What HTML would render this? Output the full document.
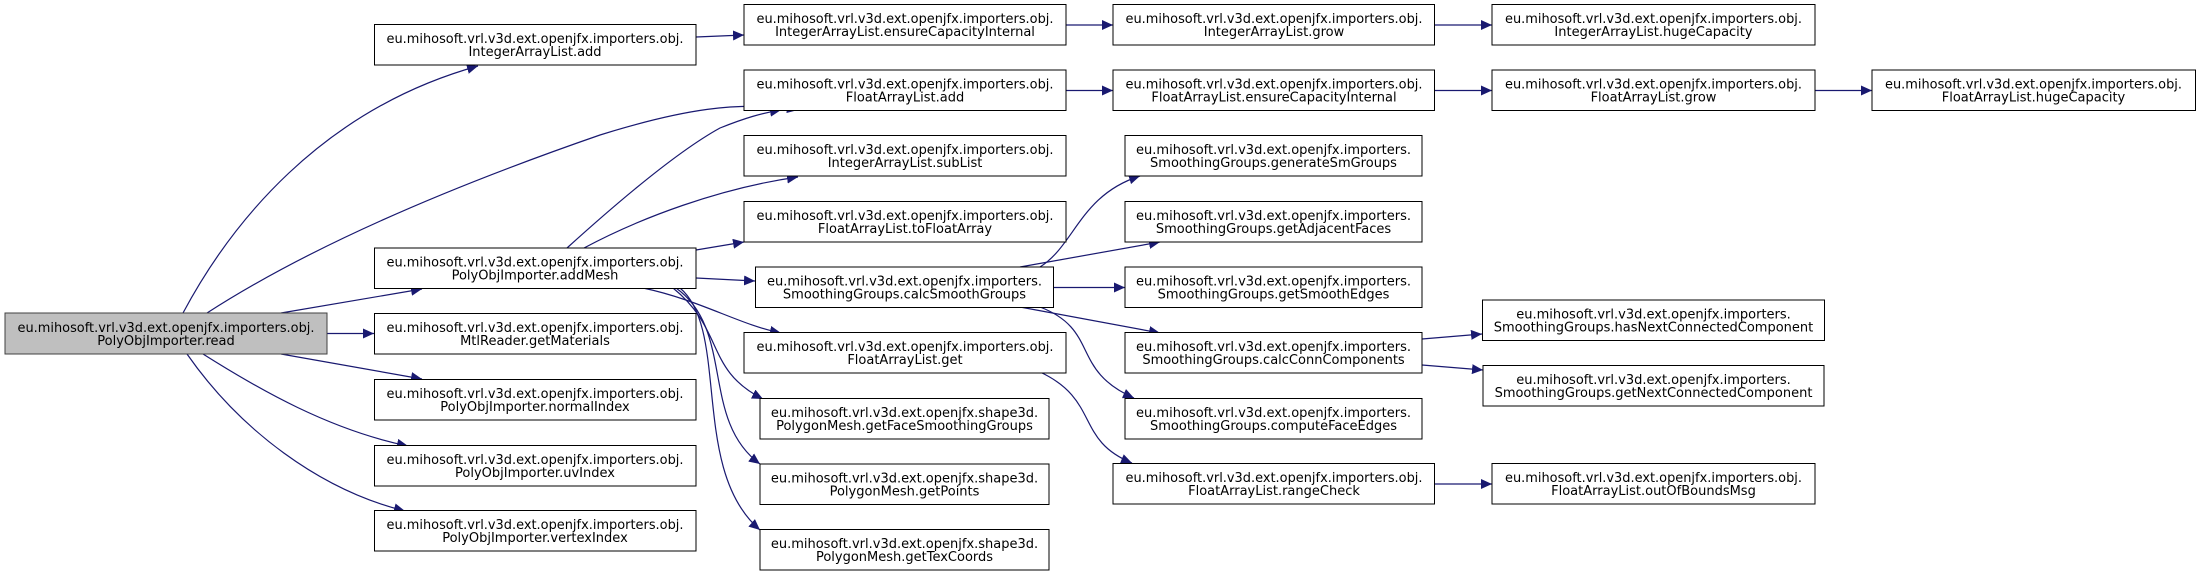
<!DOCTYPE html>
<html><head><meta charset="utf-8"><style>
html,body{margin:0;padding:0;background:#fff;}
svg{display:block;}
text{font-family:"DejaVu Sans","Liberation Sans",sans-serif;font-size:13px;fill:#000;}
</style></head><body>
<svg width="2197" height="575" viewBox="0 0 2197 575" xmlns="http://www.w3.org/2000/svg">
<defs>
<marker id="a" markerUnits="userSpaceOnUse" markerWidth="12" markerHeight="10" refX="11" refY="5" orient="auto">
<path d="M0,0 L11,5 L0,10 z" fill="#191970"/>
</marker>
</defs>
<g fill="none" stroke="#191970" stroke-width="1.2" marker-end="url(#a)">
<path d="M183,313 C230,225 320,110 478,66"/>
<path d="M207,313 C320,240 470,180 600,135 C680,110 740,100 798,110"/>
<path d="M567,248 C620,200 680,150 720,128 C745,118 762,113 781,110"/>
<path d="M584,248 C640,218 720,188 798,177"/>
<path d="M696,250 L744,242"/>
<path d="M696,278 L755,281"/>
<path d="M643,288 C700,300 740,325 781,333"/>
<path d="M673,288 C725,330 705,370 763,399"/>
<path d="M676,288 C735,330 700,420 760,464"/>
<path d="M680,288 C730,330 690,470 760,530"/>
<path d="M281,313 L422,289"/>
<path d="M327,333.5 L374,333.5"/>
<path d="M281,354 L422,379"/>
<path d="M203,354 C260,390 330,430 408,446"/>
<path d="M187,354 C240,430 320,490 405,511"/>
<path d="M696,37 L744,35"/>
<path d="M1066,25 L1113,25"/>
<path d="M1434,25 L1492,25"/>
<path d="M1066,90.5 L1113,90.5"/>
<path d="M1434,90.5 L1492,90.5"/>
<path d="M1815,90.5 L1872,90.5"/>
<path d="M1040,267 C1075,245 1080,195 1140,176"/>
<path d="M1020,267 L1160,242"/>
<path d="M1053,287.5 L1125,287.5"/>
<path d="M1020,307 L1160,333"/>
<path d="M1040,307 C1100,330 1070,370 1134,398"/>
<path d="M1040,372 C1100,400 1075,440 1132,463"/>
<path d="M1422,339 L1482,334"/>
<path d="M1422,365 L1483,370"/>
<path d="M1434,484 L1492,484"/>
</g>
<g stroke="#000" stroke-width="1">
<rect x="5" y="313" width="322" height="41" fill="#bfbfbf" stroke="#404040"/>
<rect x="374.5" y="24.5" width="321.5" height="40.5" fill="#fff"/>
<rect x="374.5" y="248" width="321.5" height="40.5" fill="#fff"/>
<rect x="374.5" y="313.5" width="321.5" height="40.5" fill="#fff"/>
<rect x="374.5" y="379.5" width="321.5" height="40.5" fill="#fff"/>
<rect x="374.5" y="445.5" width="321.5" height="40.5" fill="#fff"/>
<rect x="374.5" y="510.5" width="321.5" height="40.5" fill="#fff"/>
<rect x="744" y="4.5" width="322" height="40.5" fill="#fff"/>
<rect x="744" y="70" width="322" height="40.5" fill="#fff"/>
<rect x="744" y="135.5" width="322" height="40.5" fill="#fff"/>
<rect x="744" y="201.5" width="322" height="40.5" fill="#fff"/>
<rect x="755.5" y="267" width="298" height="40.5" fill="#fff"/>
<rect x="744" y="332.5" width="322" height="40.5" fill="#fff"/>
<rect x="760" y="398.5" width="289" height="40.5" fill="#fff"/>
<rect x="760" y="464" width="289" height="40.5" fill="#fff"/>
<rect x="760" y="529.5" width="289" height="40.5" fill="#fff"/>
<rect x="1113" y="4.5" width="321.5" height="40.5" fill="#fff"/>
<rect x="1113" y="70" width="321.5" height="40.5" fill="#fff"/>
<rect x="1125" y="135.5" width="297" height="40.5" fill="#fff"/>
<rect x="1125" y="201.5" width="297" height="40.5" fill="#fff"/>
<rect x="1125" y="267" width="297" height="40.5" fill="#fff"/>
<rect x="1125" y="332.5" width="297" height="40.5" fill="#fff"/>
<rect x="1125" y="398.5" width="297" height="40.5" fill="#fff"/>
<rect x="1113" y="463.5" width="321.5" height="40.5" fill="#fff"/>
<rect x="1492" y="4.5" width="323" height="40.5" fill="#fff"/>
<rect x="1492" y="70" width="323" height="40.5" fill="#fff"/>
<rect x="1482.5" y="300" width="342" height="40.5" fill="#fff"/>
<rect x="1483" y="365.5" width="341" height="40.5" fill="#fff"/>
<rect x="1492" y="463.5" width="323" height="40.5" fill="#fff"/>
<rect x="1872" y="70" width="323.5" height="40.5" fill="#fff"/>
</g>
<g text-anchor="middle">
<text x="166" y="332" textLength="297" lengthAdjust="spacingAndGlyphs">eu.mihosoft.vrl.v3d.ext.openjfx.importers.obj.</text><text x="166" y="345">PolyObjImporter.read</text>

<text x="535" y="43" textLength="297" lengthAdjust="spacingAndGlyphs">eu.mihosoft.vrl.v3d.ext.openjfx.importers.obj.</text><text x="535" y="56">IntegerArrayList.add</text>
<text x="535" y="266.5" textLength="297" lengthAdjust="spacingAndGlyphs">eu.mihosoft.vrl.v3d.ext.openjfx.importers.obj.</text><text x="535" y="279.5">PolyObjImporter.addMesh</text>
<text x="535" y="332" textLength="297" lengthAdjust="spacingAndGlyphs">eu.mihosoft.vrl.v3d.ext.openjfx.importers.obj.</text><text x="535" y="345">MtlReader.getMaterials</text>
<text x="535" y="398" textLength="297" lengthAdjust="spacingAndGlyphs">eu.mihosoft.vrl.v3d.ext.openjfx.importers.obj.</text><text x="535" y="411">PolyObjImporter.normalIndex</text>
<text x="535" y="464" textLength="297" lengthAdjust="spacingAndGlyphs">eu.mihosoft.vrl.v3d.ext.openjfx.importers.obj.</text><text x="535" y="477">PolyObjImporter.uvIndex</text>
<text x="535" y="529" textLength="297" lengthAdjust="spacingAndGlyphs">eu.mihosoft.vrl.v3d.ext.openjfx.importers.obj.</text><text x="535" y="542">PolyObjImporter.vertexIndex</text>

<text x="905" y="23" textLength="297" lengthAdjust="spacingAndGlyphs">eu.mihosoft.vrl.v3d.ext.openjfx.importers.obj.</text><text x="905" y="36">IntegerArrayList.ensureCapacityInternal</text>
<text x="905" y="88.5" textLength="297" lengthAdjust="spacingAndGlyphs">eu.mihosoft.vrl.v3d.ext.openjfx.importers.obj.</text><text x="905" y="101.5">FloatArrayList.add</text>
<text x="905" y="154" textLength="297" lengthAdjust="spacingAndGlyphs">eu.mihosoft.vrl.v3d.ext.openjfx.importers.obj.</text><text x="905" y="167">IntegerArrayList.subList</text>
<text x="905" y="220" textLength="297" lengthAdjust="spacingAndGlyphs">eu.mihosoft.vrl.v3d.ext.openjfx.importers.obj.</text><text x="905" y="233">FloatArrayList.toFloatArray</text>
<text x="904.5" y="285.5" textLength="275" lengthAdjust="spacingAndGlyphs">eu.mihosoft.vrl.v3d.ext.openjfx.importers.</text><text x="904.5" y="298.5">SmoothingGroups.calcSmoothGroups</text>
<text x="905" y="351" textLength="297" lengthAdjust="spacingAndGlyphs">eu.mihosoft.vrl.v3d.ext.openjfx.importers.obj.</text><text x="905" y="364">FloatArrayList.get</text>
<text x="904.5" y="417">eu.mihosoft.vrl.v3d.ext.openjfx.shape3d.</text><text x="904.5" y="430">PolygonMesh.getFaceSmoothingGroups</text>
<text x="904.5" y="482.5">eu.mihosoft.vrl.v3d.ext.openjfx.shape3d.</text><text x="904.5" y="495.5">PolygonMesh.getPoints</text>
<text x="904.5" y="548">eu.mihosoft.vrl.v3d.ext.openjfx.shape3d.</text><text x="904.5" y="561">PolygonMesh.getTexCoords</text>

<text x="1274" y="23" textLength="297" lengthAdjust="spacingAndGlyphs">eu.mihosoft.vrl.v3d.ext.openjfx.importers.obj.</text><text x="1274" y="36">IntegerArrayList.grow</text>
<text x="1274" y="88.5" textLength="297" lengthAdjust="spacingAndGlyphs">eu.mihosoft.vrl.v3d.ext.openjfx.importers.obj.</text><text x="1274" y="101.5">FloatArrayList.ensureCapacityInternal</text>
<text x="1273.5" y="154" textLength="275" lengthAdjust="spacingAndGlyphs">eu.mihosoft.vrl.v3d.ext.openjfx.importers.</text><text x="1273.5" y="167">SmoothingGroups.generateSmGroups</text>
<text x="1273.5" y="220" textLength="275" lengthAdjust="spacingAndGlyphs">eu.mihosoft.vrl.v3d.ext.openjfx.importers.</text><text x="1273.5" y="233">SmoothingGroups.getAdjacentFaces</text>
<text x="1273.5" y="285.5" textLength="275" lengthAdjust="spacingAndGlyphs">eu.mihosoft.vrl.v3d.ext.openjfx.importers.</text><text x="1273.5" y="298.5">SmoothingGroups.getSmoothEdges</text>
<text x="1273.5" y="351" textLength="275" lengthAdjust="spacingAndGlyphs">eu.mihosoft.vrl.v3d.ext.openjfx.importers.</text><text x="1273.5" y="364">SmoothingGroups.calcConnComponents</text>
<text x="1273.5" y="417" textLength="275" lengthAdjust="spacingAndGlyphs">eu.mihosoft.vrl.v3d.ext.openjfx.importers.</text><text x="1273.5" y="430">SmoothingGroups.computeFaceEdges</text>
<text x="1274" y="482" textLength="297" lengthAdjust="spacingAndGlyphs">eu.mihosoft.vrl.v3d.ext.openjfx.importers.obj.</text><text x="1274" y="495">FloatArrayList.rangeCheck</text>

<text x="1653.5" y="23" textLength="297" lengthAdjust="spacingAndGlyphs">eu.mihosoft.vrl.v3d.ext.openjfx.importers.obj.</text><text x="1653.5" y="36">IntegerArrayList.hugeCapacity</text>
<text x="1653.5" y="88.5" textLength="297" lengthAdjust="spacingAndGlyphs">eu.mihosoft.vrl.v3d.ext.openjfx.importers.obj.</text><text x="1653.5" y="101.5">FloatArrayList.grow</text>
<text x="1653.5" y="318.5">eu.mihosoft.vrl.v3d.ext.openjfx.importers.</text><text x="1653.5" y="331.5">SmoothingGroups.hasNextConnectedComponent</text>
<text x="1653.5" y="384">eu.mihosoft.vrl.v3d.ext.openjfx.importers.</text><text x="1653.5" y="397">SmoothingGroups.getNextConnectedComponent</text>
<text x="1653.5" y="482" textLength="297" lengthAdjust="spacingAndGlyphs">eu.mihosoft.vrl.v3d.ext.openjfx.importers.obj.</text><text x="1653.5" y="495">FloatArrayList.outOfBoundsMsg</text>

<text x="2033.5" y="88.5" textLength="297" lengthAdjust="spacingAndGlyphs">eu.mihosoft.vrl.v3d.ext.openjfx.importers.obj.</text><text x="2033.5" y="101.5">FloatArrayList.hugeCapacity</text>
</g>
</svg>
</body></html>
